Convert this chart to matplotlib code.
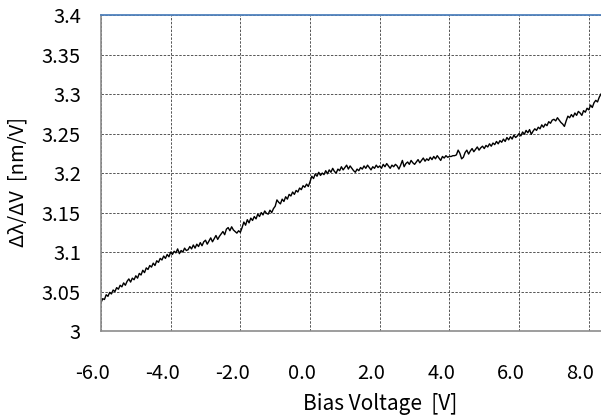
import numpy as np
import matplotlib.pyplot as plt
from matplotlib.ticker import FormatStrFormatter
from matplotlib.transforms import ScaledTranslation

plt.rcParams['font.family'] = ['Noto Sans CJK KR', 'DejaVu Sans']

# tuning efficiency dλ/dV sampled every 0.05 V from -6.0 V to 8.35 V
slope = [
    3.036, 3.041, 3.040, 3.046, 3.044, 3.049, 3.047, 3.052, 3.050, 3.055,
    3.053, 3.058, 3.056, 3.061, 3.058, 3.063, 3.066, 3.062, 3.067, 3.065,
    3.070, 3.067, 3.073, 3.071, 3.077, 3.074, 3.080, 3.078, 3.083, 3.081,
    3.086, 3.083, 3.089, 3.087, 3.092, 3.090, 3.095, 3.092, 3.097, 3.094,
    3.100, 3.097, 3.101, 3.099, 3.104, 3.098, 3.102, 3.100, 3.105, 3.102,
    3.103, 3.107, 3.104, 3.109, 3.105, 3.110, 3.107, 3.112, 3.108, 3.113,
    3.115, 3.110, 3.114, 3.118, 3.113, 3.117, 3.121, 3.116, 3.120, 3.123,
    3.126, 3.122, 3.129, 3.131, 3.127, 3.132, 3.128, 3.126, 3.124, 3.127,
    3.125, 3.131, 3.138, 3.134, 3.141, 3.137, 3.143, 3.140, 3.145, 3.142,
    3.148, 3.145, 3.150, 3.147, 3.152, 3.149, 3.148, 3.153, 3.150, 3.155,
    3.158, 3.166, 3.163, 3.161, 3.167, 3.164, 3.170, 3.167, 3.173, 3.171,
    3.176, 3.173, 3.178, 3.176, 3.181, 3.179, 3.184, 3.182, 3.186, 3.183,
    3.189, 3.196, 3.193, 3.199, 3.196, 3.201, 3.197, 3.200, 3.198, 3.203,
    3.199, 3.204, 3.201, 3.206, 3.202, 3.200, 3.205, 3.203, 3.208, 3.204,
    3.207, 3.210, 3.205, 3.209, 3.206, 3.203, 3.201, 3.205, 3.203, 3.207,
    3.205, 3.209, 3.206, 3.210, 3.207, 3.204, 3.208, 3.206, 3.210, 3.207,
    3.209, 3.206, 3.211, 3.208, 3.212, 3.209, 3.206, 3.210, 3.208, 3.211,
    3.209, 3.205, 3.210, 3.216, 3.208, 3.212, 3.214, 3.211, 3.216, 3.213,
    3.211, 3.214, 3.217, 3.213, 3.216, 3.219, 3.215, 3.218, 3.216, 3.220,
    3.217, 3.221, 3.218, 3.222, 3.219, 3.216, 3.221, 3.219, 3.222, 3.220,
    3.221, 3.221, 3.222, 3.222, 3.223, 3.229, 3.225, 3.218, 3.220, 3.226,
    3.229, 3.224, 3.228, 3.231, 3.227, 3.230, 3.233, 3.229, 3.232, 3.234,
    3.231, 3.235, 3.233, 3.237, 3.234, 3.238, 3.236, 3.240, 3.237, 3.241,
    3.239, 3.243, 3.240, 3.245, 3.242, 3.246, 3.243, 3.248, 3.245, 3.247,
    3.250, 3.247, 3.252, 3.249, 3.254, 3.251, 3.255, 3.249, 3.253, 3.256,
    3.254, 3.258, 3.256, 3.261, 3.258, 3.262, 3.260, 3.265, 3.263, 3.267,
    3.268, 3.266, 3.270, 3.267, 3.264, 3.262, 3.259, 3.266, 3.272, 3.270,
    3.274, 3.271, 3.276, 3.273, 3.278, 3.276, 3.273, 3.279, 3.277, 3.282,
    3.280, 3.286, 3.283, 3.289, 3.292, 3.290, 3.296, 3.300,
]
bias = np.linspace(-6.0, 8.35, len(slope))

x_ticks = [-6.0, -4.0, -2.0, 0.0, 2.0, 4.0, 6.0, 8.0]
y_ticks = [3.0, 3.05, 3.1, 3.15, 3.2, 3.25, 3.3, 3.35, 3.4]

fig = plt.figure(figsize=(6.01, 4.17), dpi=100)
ax = fig.add_axes([0.168, 0.206, 0.832, 0.758])

ax.plot(bias, slope, color='black', linewidth=1.0)

ax.set_xlim(-6.0, 8.35)
ax.set_ylim(3.0, 3.4)
ax.set_xticks(x_ticks)
ax.set_yticks(y_ticks)
ax.xaxis.set_major_formatter(FormatStrFormatter('%.1f'))
ax.set_yticklabels(['%g' % v for v in y_ticks])
ax.tick_params(axis='both', length=0, labelsize=14.5, colors='black')
ax.tick_params(axis='x', pad=23)
ax.tick_params(axis='y', pad=14.5)

# x labels sit a few pixels left of their grid lines
shift = ScaledTranslation(-6 / 72, 0, fig.dpi_scale_trans)
for lbl in ax.get_xticklabels():
    lbl.set_transform(lbl.get_transform() + shift)

ax.grid(True, color='#555555', linestyle=(0, (2.5, 1.5)), linewidth=0.7)
ax.set_axisbelow(True)

for side in ['left', 'bottom']:
    ax.spines[side].set_color('#8c8c8c')
    ax.spines[side].set_linewidth(1.2)
ax.spines['right'].set_visible(False)
ax.spines['top'].set_color('#4f81bd')
ax.spines['top'].set_linewidth(1.3)

ax.set_xlabel('Bias Voltage  [V]', fontsize=15)
ax.xaxis.set_label_coords(0.558, -0.195)
ax.set_ylabel('Δλ/ΔV  [nm/V]', fontsize=14.5)
ax.yaxis.set_label_coords(-0.145, 0.4715)

fig.savefig('out.png', dpi=100)
